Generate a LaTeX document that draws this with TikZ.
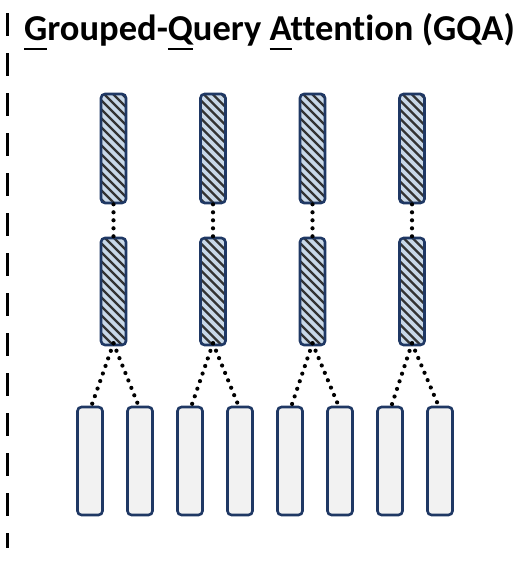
\documentclass[tikz,border=0pt]{standalone}
\usepackage{fontspec}
\setmainfont{Carlito}[Ligatures={NoCommon}]
\definecolor{navy}{HTML}{1F3864}
\definecolor{hatchbg}{HTML}{C8D8E8}
\definecolor{lightbox}{HTML}{F2F2F2}
\newcommand\myul[1]{\setbox0\hbox{#1}\rlap{\rule[-0.28em]{\wd0}{0.065em}}#1}
\begin{document}
\begin{tikzpicture}[x=1pt,y=-1pt,
  hatchbox/.style={draw=navy, line width=2.6pt, rounded corners=4pt, minimum width=25pt, minimum height=109pt, inner sep=0pt,
    fill=hatchbg,
    path picture={
      \foreach \k in {-20,...,20}{
        \draw[line width=2.4pt, black!80] ([xshift=-20pt,yshift=\k*9pt+20pt]path picture bounding box.center) -- ++(40pt,-40pt);
      }
    }},
  plainbox/.style={draw=navy, line width=2.6pt, rounded corners=4pt, minimum width=25pt, minimum height=108pt, inner sep=0pt, fill=lightbox},
  dotline/.style={line width=4.2pt, line cap=round, dash pattern=on 0pt off 8pt, black}
]
\useasboundingbox (0,0) rectangle (518,562);
\fill[white] (0,0) rectangle (518,562);
\coordinate (dtop) at (7.5,13);
\coordinate (dbot) at (7.5,548);
\draw[line width=3pt, dash pattern=on 23pt off 17pt] (dtop) -- (dbot);
\node[anchor=base west, inner sep=0pt, font=\fontsize{36.5}{40}\selectfont\bfseries] (title) at (24,40)
  {\myul{G}rouped-\myul{Q}uery \myul{A}ttention (GQA)};
\foreach \i/\cx in {1/113.5,2/213,3/312.5,4/412}{
  \node[hatchbox] (t\i) at (\cx,148.5) {};
  \node[hatchbox, minimum height=107pt] (m\i) at (\cx,291.5) {};
  \draw[dotline] (t\i.south) -- (m\i.north);
}
\foreach \j/\cx in {1/90,2/140,3/190,4/240,5/290,6/340,7/390,8/440}{
  \node[plainbox] (b\j) at (\cx,461) {};
}
\foreach \i/\a/\b in {1/1/2,2/3/4,3/5/6,4/7/8}{
  \draw[dotline] ([yshift=3pt]m\i.south) -- ([xshift=1.5pt]b\a.north);
  \draw[dotline] ([yshift=3pt]m\i.south) -- ([xshift=-1.5pt]b\b.north);
}
\end{tikzpicture}
\end{document}
